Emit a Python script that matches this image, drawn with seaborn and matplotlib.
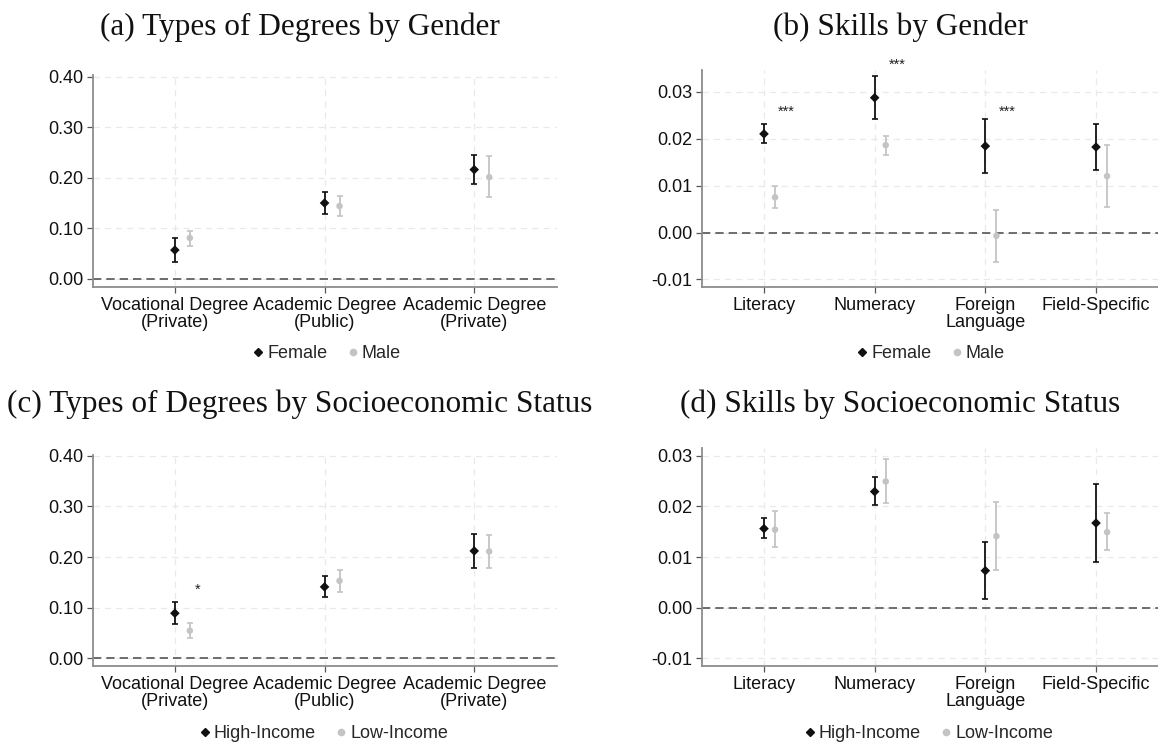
import numpy as np
import pandas as pd
import matplotlib
matplotlib.use("Agg")
import matplotlib.pyplot as plt
from matplotlib.lines import Line2D
import seaborn as sns

degree_labels = ["Vocational Degree\n(Private)", "Academic Degree\n(Public)", "Academic Degree\n(Private)"]
skill_labels = ["Literacy", "Numeracy", "Foreign\nLanguage", "Field-Specific"]

# (a) degrees by gender
a_female = [0.057, 0.150, 0.216]
a_female_lo = [0.034, 0.129, 0.187]
a_female_hi = [0.080, 0.171, 0.245]
a_male = [0.081, 0.144, 0.201]
a_male_lo = [0.066, 0.125, 0.162]
a_male_hi = [0.095, 0.163, 0.242]

# (b) skills by gender
b_female = [0.0210, 0.0287, 0.0184, 0.0182]
b_female_lo = [0.0190, 0.0242, 0.0126, 0.0134]
b_female_hi = [0.0230, 0.0333, 0.0241, 0.0230]
b_male = [0.0075, 0.0186, -0.0007, 0.0120]
b_male_lo = [0.0052, 0.0166, -0.0063, 0.0055]
b_male_hi = [0.0098, 0.0205, 0.0047, 0.0186]

# (c) degrees by SES
c_high = [0.089, 0.141, 0.212]
c_high_lo = [0.067, 0.121, 0.179]
c_high_hi = [0.112, 0.1625, 0.245]
c_low = [0.0545, 0.153, 0.211]
c_low_lo = [0.0395, 0.1315, 0.178]
c_low_hi = [0.070, 0.175, 0.244]

# (d) skills by SES
d_high = [0.0156, 0.0229, 0.0073, 0.0167]
d_high_lo = [0.0137, 0.0202, 0.0017, 0.0090]
d_high_hi = [0.0176, 0.0257, 0.0130, 0.0244]
d_low = [0.0154, 0.0249, 0.0141, 0.0149]
d_low_lo = [0.0119, 0.0206, 0.0074, 0.0113]
d_low_hi = [0.0191, 0.0293, 0.0208, 0.0186]

# significance stars: (x position, y, text)
b_stars = [(0.2, 0.0256, "***"), (1.2, 0.0358, "***"), (2.2, 0.0256, "***")]
c_stars = [(0.15, 0.135, "*")]

deg_ticks = [0.0, 0.1, 0.2, 0.3, 0.4]
skill_ticks = [-0.01, 0.0, 0.01, 0.02, 0.03]

W, H = 1158, 747
DARK = "#111111"
LIGHT = "#c4c4c4"
FS = 13

sns.set_theme(style="white")
plt.rcParams["font.family"] = ["Liberation Sans", "DejaVu Sans"]

fig = plt.figure(figsize=(W / 100, H / 100), dpi=100)


def rect(l, r, t, b):
    return [l / W, 1 - b / H, (r - l) / W, (b - t) / H]


def make_frame(labels, g1, g1_lo, g1_hi, g2, g2_lo, g2_hi, names):
    rows = []
    for i in range(len(labels)):
        rows.append((i, names[0], g1[i], g1_lo[i], g1_hi[i]))
        rows.append((i + 0.1, names[1], g2[i], g2_lo[i], g2_hi[i]))
    return pd.DataFrame(rows, columns=["x", "group", "est", "lo", "hi"])


def panel(ax, df, labels, names, yticks, ylim, xlim, legend_xy, stars):
    # grid
    for t in yticks:
        ax.axhline(t, color="#e9e9e9", lw=0.9, ls=(0, (5, 4)), zorder=0)
    for i in range(len(labels)):
        ax.axvline(i, color="#e9e9e9", lw=0.9, ls=(0, (5, 4)), zorder=0)
    ax.axhline(0, color="#555555", lw=1.2, ls=(0, (5, 3)), zorder=1)

    colors = {names[0]: DARK, names[1]: LIGHT}
    for name in names:
        sub = df[df["group"] == name]
        ax.errorbar(sub["x"], sub["est"],
                    yerr=[sub["est"] - sub["lo"], sub["hi"] - sub["est"]],
                    fmt="none", ecolor=colors[name], elinewidth=1.3,
                    capsize=2.5, capthick=1.2, zorder=2)
    sns.scatterplot(data=df[df["group"] == names[0]], x="x", y="est",
                    marker="D", color=DARK, s=24, edgecolor="none",
                    ax=ax, legend=False, zorder=3)
    sns.scatterplot(data=df[df["group"] == names[1]], x="x", y="est",
                    marker="o", color=LIGHT, s=22, edgecolor="none",
                    ax=ax, legend=False, zorder=3)

    for xs, y, txt in stars:
        ax.text(xs, y, txt, ha="center", va="center", fontsize=10.5,
                color="#222222", clip_on=False)

    ax.set_xlim(*xlim)
    ax.set_ylim(*ylim)
    ax.set_xticks(range(len(labels)))
    ax.set_xticklabels(labels, fontsize=FS, color="#111111", linespacing=1.05)
    ax.set_yticks(yticks)
    ax.set_yticklabels(["{:.2f}".format(t) for t in yticks], fontsize=FS, color="#111111")
    ax.set_xlabel("")
    ax.set_ylabel("")
    ax.grid(False)
    for s in ["top", "right"]:
        ax.spines[s].set_visible(False)
    for s in ["left", "bottom"]:
        ax.spines[s].set_color("#8c8c8c")
        ax.spines[s].set_linewidth(1.3)
    ax.tick_params(axis="both", which="major", length=4, width=0.9,
                   color="#555555", pad=3, left=True, bottom=True)

    handles = [Line2D([], [], marker="D", color=DARK, ls="none", markersize=4.5),
               Line2D([], [], marker="o", color=LIGHT, ls="none", markersize=4.5)]
    ax.legend(handles, names, loc="center",
              bbox_to_anchor=(legend_xy[0] / W, 1 - legend_xy[1] / H),
              bbox_transform=fig.transFigure, ncol=2, frameon=False,
              handletextpad=0.0, columnspacing=0.9, fontsize=FS,
              handlelength=1.0)


ax_a = fig.add_axes(rect(93, 557, 75, 287))
ax_b = fig.add_axes(rect(702, 1158, 70, 287))
ax_c = fig.add_axes(rect(93, 557, 455, 666))
ax_d = fig.add_axes(rect(702, 1158, 448, 666))

df_a = make_frame(degree_labels, a_female, a_female_lo, a_female_hi,
                  a_male, a_male_lo, a_male_hi, ["Female", "Male"])
df_b = make_frame(skill_labels, b_female, b_female_lo, b_female_hi,
                  b_male, b_male_lo, b_male_hi, ["Female", "Male"])
df_c = make_frame(degree_labels, c_high, c_high_lo, c_high_hi,
                  c_low, c_low_lo, c_low_hi, ["High-Income", "Low-Income"])
df_d = make_frame(skill_labels, d_high, d_high_lo, d_high_hi,
                  d_low, d_low_lo, d_low_hi, ["High-Income", "Low-Income"])

panel(ax_a, df_a, degree_labels, ["Female", "Male"], deg_ticks,
      (-0.016, 0.403), (-0.547, 2.553), (325, 354), [])
panel(ax_b, df_b, skill_labels, ["Female", "Male"], skill_ticks,
      (-0.0116, 0.0346), (-0.56, 3.56), (929, 354), b_stars)
panel(ax_c, df_c, degree_labels, ["High-Income", "Low-Income"], deg_ticks,
      (-0.0152, 0.4015), (-0.547, 2.553), (322, 734), c_stars)
panel(ax_d, df_d, skill_labels, ["High-Income", "Low-Income"], skill_ticks,
      (-0.0115, 0.0315), (-0.56, 3.56), (927, 734), [])

title_kw = dict(ha="center", va="center", fontsize=22.5, family=["Liberation Serif", "DejaVu Serif"],
                color="#111111")
fig.text(300 / W, 1 - 27 / H, "(a) Types of Degrees by Gender", **title_kw)
fig.text(900 / W, 1 - 27 / H, "(b) Skills by Gender", **title_kw)
fig.text(300 / W, 1 - 404 / H, "(c) Types of Degrees by Socioeconomic Status", **title_kw)
fig.text(900 / W, 1 - 404 / H, "(d) Skills by Socioeconomic Status", **title_kw)

fig.savefig("out.png", dpi=100, facecolor="white")
